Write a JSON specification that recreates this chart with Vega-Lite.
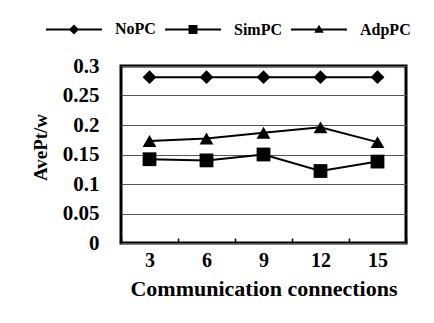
{
  "$schema": "https://vega.github.io/schema/vega-lite/v6.json",
  "autosize": "none",
  "width": 285,
  "height": 177,
  "padding": {"left": 121, "top": 66, "right": 28, "bottom": 80},
  "background": "white",
  "config": {
    "font": "Liberation Serif",
    "view": {"stroke": "black", "strokeWidth": 3},
    "axis": {"labelFont": "Liberation Serif", "titleFont": "Liberation Serif", "labelFontWeight": "bold", "titleFontWeight": "bold", "labelColor": "black", "titleColor": "black"}
  },
  "data": {
    "values": [
      {"conn": "3", "series": "NoPC", "value": 0.281},
      {"conn": "6", "series": "NoPC", "value": 0.281},
      {"conn": "9", "series": "NoPC", "value": 0.281},
      {"conn": "12", "series": "NoPC", "value": 0.281},
      {"conn": "15", "series": "NoPC", "value": 0.281},
      {"conn": "3", "series": "SimPC", "value": 0.142},
      {"conn": "6", "series": "SimPC", "value": 0.140},
      {"conn": "9", "series": "SimPC", "value": 0.150},
      {"conn": "12", "series": "SimPC", "value": 0.122},
      {"conn": "15", "series": "SimPC", "value": 0.138},
      {"conn": "3", "series": "AdpPC", "value": 0.173},
      {"conn": "6", "series": "AdpPC", "value": 0.177},
      {"conn": "9", "series": "AdpPC", "value": 0.187},
      {"conn": "12", "series": "AdpPC", "value": 0.196},
      {"conn": "15", "series": "AdpPC", "value": 0.171}
    ]
  },
  "encoding": {
    "x": {
      "field": "conn", "type": "ordinal", "sort": null, "bandPosition": 0.5,
      "scale": {"type": "band", "paddingInner": 0, "paddingOuter": 0, "domain": ["3", "6", "9", "12", "15"]},
      "axis": {
        "title": "Communication connections", "labelAngle": 0, "labelFontSize": 20, "titleFontSize": 22,
        "domain": false, "tickBand": "extent", "tickSize": -5, "tickColor": "black", "tickWidth": 1.5,
        "labelPadding": 12, "titlePadding": 8, "grid": false
      }
    },
    "y": {
      "field": "value", "type": "quantitative",
      "scale": {"domain": [0, 0.3], "nice": false},
      "axis": {
        "title": "AvePt/w", "values": [0, 0.05, 0.1, 0.15, 0.2, 0.25, 0.3], "format": ".2~f",
        "labelFontSize": 21, "titleFontSize": 19, "domain": false, "ticks": false, "labelPadding": 22,
        "grid": true, "gridColor": "#555555", "gridWidth": 1, "gridOpacity": 1, "titlePadding": 12, "titleY": 81
      }
    }
  },
  "layer": [
    {
      "mark": {"type": "line", "color": "black", "strokeWidth": 2},
      "encoding": {"detail": {"field": "series"}}
    },
    {
      "mark": {"type": "point", "filled": true, "color": "black", "opacity": 1, "size": 190},
      "encoding": {
        "shape": {
          "field": "series", "type": "nominal",
          "scale": {"domain": ["NoPC", "SimPC", "AdpPC"], "range": ["diamond", "square", "triangle-up"]},
          "legend": null
        }
      }
    },
    {
      "transform": [{"filter": "datum.value < 0"}],
      "mark": {"type": "point", "filled": true, "color": "black", "opacity": 1, "size": 3136},
      "encoding": {
        "shape": {
          "field": "series", "type": "nominal",
          "scale": {"domain": ["NoPC", "SimPC", "AdpPC"], "range": [
            "M-1,-0.036H1V0.036H-1ZM-0.18,0L0,-0.18L0.18,0L0,0.18Z",
            "M-1,-0.036H1V0.036H-1ZM-0.16,-0.16H0.16V0.16H-0.16Z",
            "M-1,-0.036H1V0.036H-1ZM-0.17,0.12L0,-0.17L0.17,0.12Z"
          ]},
          "legend": {
            "title": null, "orient": "none", "direction": "horizontal", "legendX": -76, "legendY": -66,
            "padding": 0, "symbolSize": 3136, "labelOffset": 12, "columnPadding": 6,
            "symbolFillColor": "black", "symbolOpacity": 1,
            "labelFont": "Liberation Serif", "labelFontWeight": "bold", "labelFontSize": 16, "labelColor": "black"
          }
        }
      }
    }
  ],
  "resolve": {"scale": {"shape": "independent"}, "legend": {"shape": "independent"}}
}
